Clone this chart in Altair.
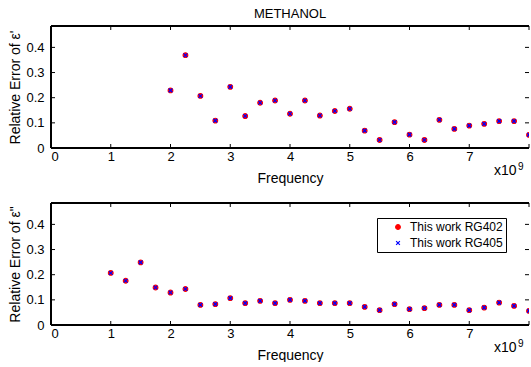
import altair as alt
import pandas as pd

# Frequency grid (GHz) and relative errors of the real part of permittivity
freq_re = [2.0, 2.25, 2.5, 2.75, 3.0, 3.25, 3.5, 3.75, 4.0, 4.25, 4.5, 4.75, 5.0,
           5.25, 5.5, 5.75, 6.0, 6.25, 6.5, 6.75, 7.0, 7.25, 7.5, 7.75, 8.0]
err_re_rg402 = [0.229, 0.369, 0.207, 0.109, 0.243, 0.127, 0.180, 0.189, 0.136, 0.189,
                0.129, 0.147, 0.156, 0.069, 0.032, 0.103, 0.053, 0.032, 0.112, 0.076,
                0.089, 0.096, 0.107, 0.107, 0.052]
err_re_rg405 = [0.229, 0.369, 0.207, 0.109, 0.243, 0.127, 0.180, 0.189, 0.136, 0.189,
                0.129, 0.147, 0.156, 0.069, 0.032, 0.103, 0.053, 0.032, 0.112, 0.076,
                0.089, 0.096, 0.107, 0.107, 0.052]

# Relative errors of the imaginary part
freq_im = [1.0, 1.25, 1.5, 1.75, 2.0, 2.25, 2.5, 2.75, 3.0, 3.25, 3.5, 3.75, 4.0, 4.25,
           4.5, 4.75, 5.0, 5.25, 5.5, 5.75, 6.0, 6.25, 6.5, 6.75, 7.0, 7.25, 7.5, 7.75, 8.0]
err_im_rg402 = [0.207, 0.176, 0.249, 0.149, 0.129, 0.143, 0.080, 0.083, 0.107, 0.087,
                0.096, 0.087, 0.100, 0.096, 0.087, 0.087, 0.087, 0.072, 0.059, 0.083,
                0.063, 0.067, 0.080, 0.080, 0.059, 0.069, 0.089, 0.076, 0.056]
err_im_rg405 = [0.207, 0.176, 0.249, 0.149, 0.129, 0.143, 0.080, 0.083, 0.107, 0.087,
                0.096, 0.087, 0.100, 0.096, 0.087, 0.087, 0.087, 0.072, 0.059, 0.083,
                0.063, 0.067, 0.080, 0.080, 0.059, 0.069, 0.089, 0.076, 0.056]

series_names = ["This work RG402", "This work RG405"]
series_colors = ["#ff0000", "#0000ff"]
x_ticks = [0, 1, 2, 3, 4, 5, 6, 7, 8]
y_ticks = [0, 0.1, 0.2, 0.3, 0.4]

W, H = 478, 122
FONT = "Liberation Sans"
X_MARK = "M-1,-1L1,1M-1,1L1,-1"
TICK = 4


def long_table(freq, a, b):
    rows = [{"freq": f, "err": v, "series": series_names[0]} for f, v in zip(freq, a)]
    rows += [{"freq": f, "err": v, "series": series_names[1]} for f, v in zip(freq, b)]
    return pd.DataFrame(rows)


def panel(df, ytitle, title=None, show_legend=False):
    if show_legend:
        leg = alt.Legend(orient="none", legendX=326, legendY=15, title=None,
                         strokeColor="black", fillColor="white", padding=3,
                         labelFont=FONT, labelFontSize=12, labelColor="black",
                         symbolOffset=12, labelOffset=6, rowPadding=4,
                         symbolStrokeWidth=1.2, cornerRadius=0)
    else:
        leg = None
    color_scale = alt.Scale(domain=series_names, range=series_colors)
    x_axis = alt.Axis(values=x_ticks, title="Frequency", domain=False, ticks=False,
                      grid=False, labelFont=FONT, labelFontSize=13, labelPadding=2,
                      labelColor="black", labelOverlap=False,
                      labelExpr="datum.value >= 8 ? '' : format(datum.value, 'd')",
                      titleFont=FONT, titleFontSize=14,
                      titleFontWeight="normal", titleColor="black", titlePadding=8)
    y_axis = alt.Axis(values=y_ticks, title=ytitle, domain=False, ticks=False,
                      grid=False, labelFont=FONT, labelFontSize=13, labelPadding=7,
                      labelColor="black", labelOverlap=False,
                      labelExpr="datum.value == 0 ? '0' : format(datum.value, '.1f')",
                      titleFont=FONT, titleFontSize=14, titleFontWeight="normal",
                      titleColor="black", titlePadding=3)
    x_enc = alt.X("freq:Q", scale=alt.Scale(domain=[0, 8], nice=False), axis=x_axis)
    y_enc = alt.Y("err:Q", scale=alt.Scale(domain=[0, 0.485], nice=False), axis=y_axis)

    points = alt.Chart(df).mark_point(filled=True, strokeWidth=1.2, opacity=1,
                                      clip=True).encode(
        x=x_enc,
        y=y_enc,
        color=alt.Color("series:N", scale=color_scale, legend=leg),
        stroke=alt.Stroke("series:N", scale=color_scale, legend=leg),
        shape=alt.Shape("series:N", scale=alt.Scale(domain=series_names, range=["circle", X_MARK]),
                        legend=leg),
        size=alt.Size("series:N", scale=alt.Scale(domain=series_names, range=[22, 14]),
                      legend=leg),
    )

    xt = pd.DataFrame({"freq": x_ticks})
    yt = pd.DataFrame({"err": y_ticks})
    bottom_ticks = alt.Chart(xt).mark_rule(color="black").encode(
        x=x_enc, y=alt.value(H), y2=alt.value(H - TICK))
    top_ticks = alt.Chart(xt).mark_rule(color="black").encode(
        x=x_enc, y=alt.value(0), y2=alt.value(TICK))
    left_ticks = alt.Chart(yt).mark_rule(color="black").encode(
        y=y_enc, x=alt.value(0), x2=alt.value(TICK))
    right_ticks = alt.Chart(yt).mark_rule(color="black").encode(
        y=y_enc, x=alt.value(W - TICK), x2=alt.value(W))

    # frame: top, left and bottom edges of the axes box
    frame_top = alt.Chart(xt).mark_rule(color="black").encode(
        x=alt.value(0), x2=alt.value(W), y=alt.value(0))
    frame_bottom = alt.Chart(xt).mark_rule(color="black").encode(
        x=alt.value(0), x2=alt.value(W), y=alt.value(H))
    frame_left = alt.Chart(xt).mark_rule(color="black").encode(
        x=alt.value(0), y=alt.value(0), y2=alt.value(H))

    exp_base = alt.Chart(pd.DataFrame({"t": ["x10"]})).mark_text(
        font=FONT, fontSize=14, align="left", baseline="alphabetic", color="black").encode(
        text="t:N", x=alt.value(W - 35), y=alt.value(H + 27))
    exp_pow = alt.Chart(pd.DataFrame({"t": ["9"]})).mark_text(
        font=FONT, fontSize=10, align="left", baseline="alphabetic", color="black").encode(
        text="t:N", x=alt.value(W - 11), y=alt.value(H + 22))

    layer = alt.layer(points, bottom_ticks, top_ticks, left_ticks, right_ticks,
                      frame_top, frame_bottom, frame_left,
                      exp_base, exp_pow).properties(width=W, height=H)
    if title:
        layer = layer.properties(title=alt.Title(title, font=FONT, fontSize=13,
                                                 fontWeight="normal", color="black", offset=5))
    return layer


top = panel(long_table(freq_re, err_re_rg402, err_re_rg405), "Relative Error of ε'",
            title="METHANOL")
bottom = panel(long_table(freq_im, err_im_rg402, err_im_rg405), 'Relative Error of ε"',
               show_legend=True)

chart = alt.vconcat(top, bottom, spacing=17).resolve_legend(
    color="independent", shape="independent", stroke="independent", size="independent"
).properties(
    padding={"left": 8, "top": 7, "right": 0, "bottom": 0},
    background="white",
).configure_view(stroke=None).configure_axis(labelOverlap=False)

chart.save("out.html", embed_options={"renderer": "svg", "actions": False})
